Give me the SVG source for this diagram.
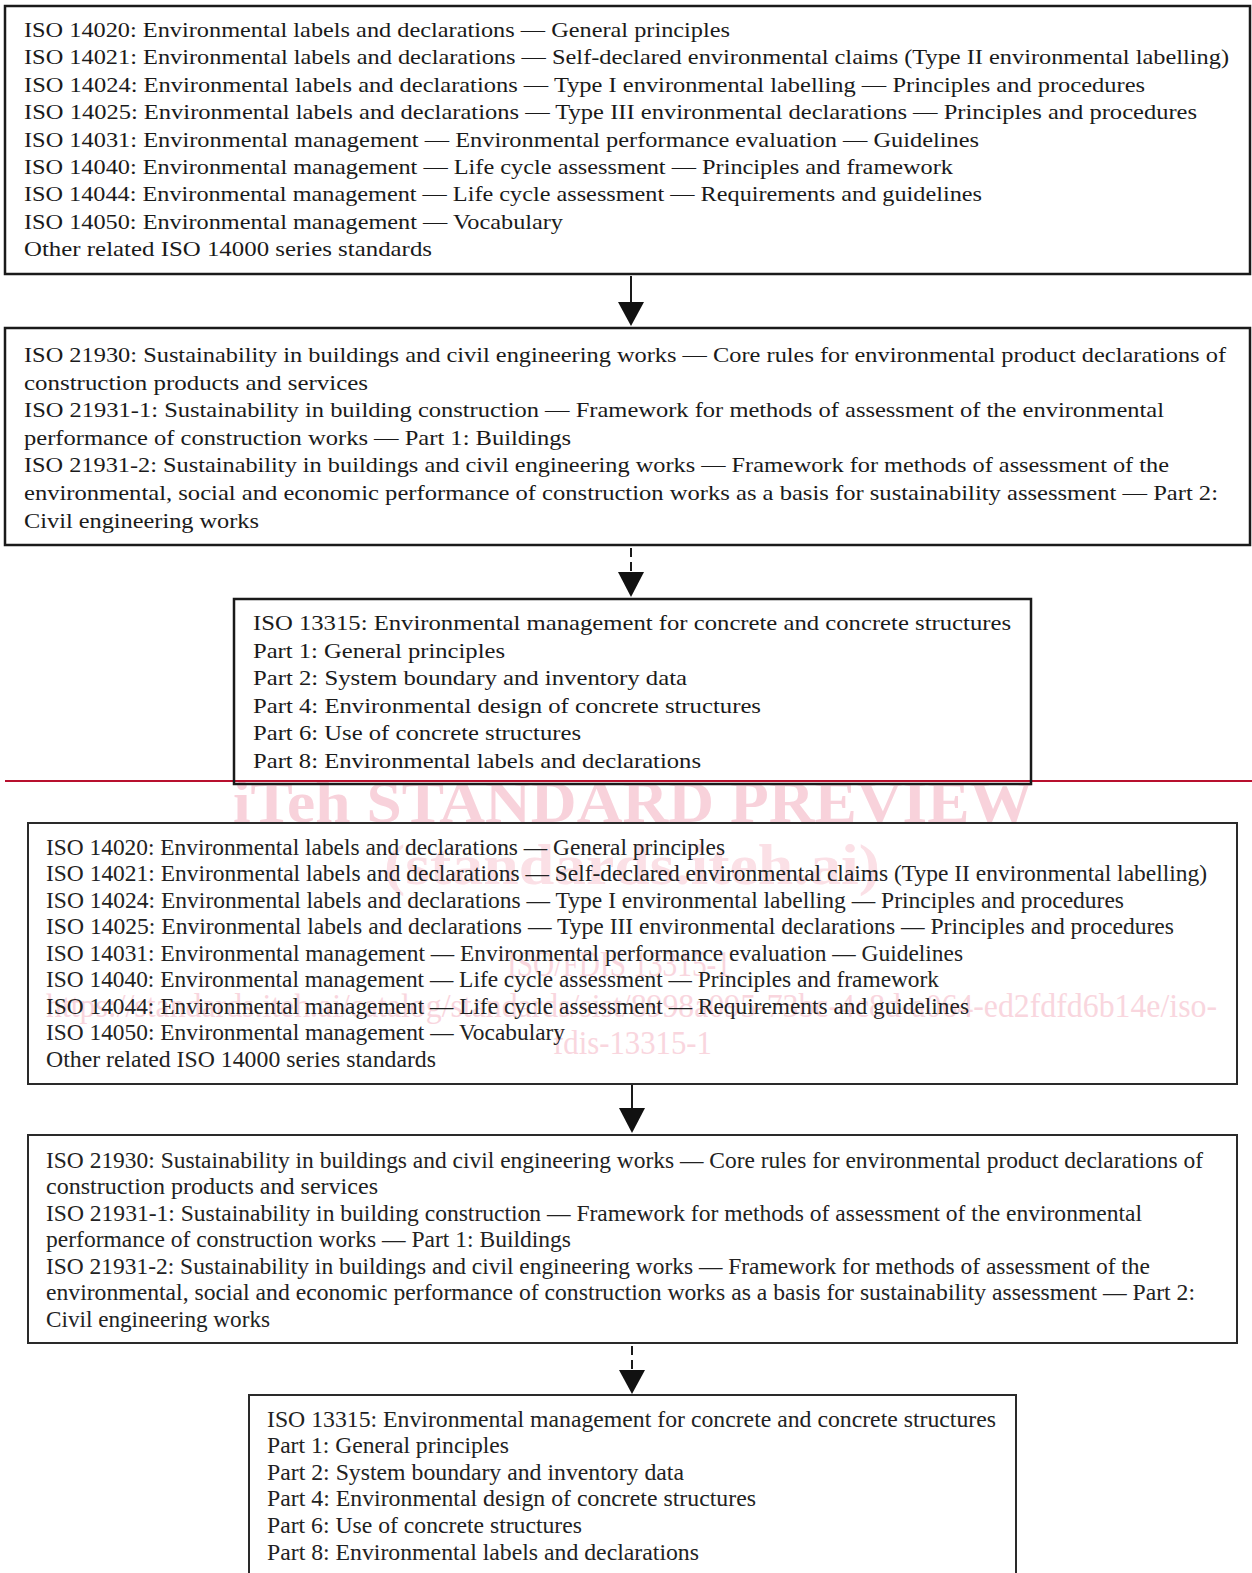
<svg xmlns="http://www.w3.org/2000/svg" width="1252" height="1573" viewBox="0 0 1252 1573">
<style>
.box{fill:none;stroke:#1a1a1a;stroke-width:2.5}
.box2{fill:none;stroke:#2a2a2a;stroke-width:2}
.t{font-family:"Liberation Serif","Times New Roman",serif;font-size:22px;fill:#1a1a1a}
.b{font-family:"Liberation Serif","Times New Roman",serif;font-size:22.5px;fill:#222}
.wm{font-family:"Liberation Serif","Times New Roman",serif;fill:#f9d6de}
.wmb{font-family:"Liberation Serif","Times New Roman",serif;fill:#f8d2db;font-weight:bold}
.wmc{font-family:"Liberation Serif","Times New Roman",serif;fill:#fbe0e6;font-weight:bold}
.ln{stroke:#1a1a1a;stroke-width:2;fill:none}
.dash{stroke:#1a1a1a;stroke-width:2;fill:none;stroke-dasharray:9 5}
.ah{fill:#111}
</style>
<rect width="1252" height="1573" fill="#ffffff"/>

<g id="watermark">
<text class="wmb" x="233" y="822" font-size="60" textLength="800" lengthAdjust="spacingAndGlyphs">iTeh STANDARD PREVIEW</text>
<text class="wmc" x="384" y="884" font-size="58" textLength="496" lengthAdjust="spacingAndGlyphs">(standards.iteh.ai)</text>
<text class="wm" x="507" y="976" font-size="36" textLength="224" lengthAdjust="spacingAndGlyphs">ISO/FDIS 13315-1</text>
<text class="wm" x="46" y="1017" font-size="34" textLength="1171" lengthAdjust="spacingAndGlyphs">https://standards.iteh.ai/catalog/standards/sist/8998a095-73bc-4c8d-a064-ed2fdfd6b14e/iso-</text>
<text class="wm" x="553" y="1054" font-size="34" textLength="159" lengthAdjust="spacingAndGlyphs">fdis-13315-1</text>
</g>

<line id="page-break" x1="5" y1="781" x2="1252" y2="781" stroke="#b8102e" stroke-width="2"/>

<g id="connectors">
<line class="ln" x1="631" y1="276" x2="631" y2="304"/>
<polygon class="ah" points="618,302 644,302 631,326"/>
<line class="dash" x1="631" y1="548" x2="631" y2="574"/>
<polygon class="ah" points="618,572 644,572 631,597"/>
<line class="ln" x1="632" y1="1085" x2="632" y2="1110"/>
<polygon class="ah" points="619,1108 645,1108 632,1133"/>
<line class="dash" x1="632" y1="1346" x2="632" y2="1372"/>
<polygon class="ah" points="619,1370 645,1370 632,1394"/>
</g>

<g id="node-1">
<rect class="box" x="5" y="6" width="1245" height="268"/>
<g transform="translate(0,2)">
<text class="t" x="24" y="35" textLength="706" lengthAdjust="spacingAndGlyphs">ISO 14020: Environmental labels and declarations — General principles</text>
<text class="t" x="24" y="62.4" textLength="1205" lengthAdjust="spacingAndGlyphs">ISO 14021: Environmental labels and declarations — Self-declared environmental claims (Type II environmental labelling)</text>
<text class="t" x="24" y="89.8" textLength="1121" lengthAdjust="spacingAndGlyphs">ISO 14024: Environmental labels and declarations — Type I environmental labelling — Principles and procedures</text>
<text class="t" x="24" y="117.2" textLength="1173" lengthAdjust="spacingAndGlyphs">ISO 14025: Environmental labels and declarations — Type III environmental declarations — Principles and procedures</text>
<text class="t" x="24" y="144.6" textLength="955" lengthAdjust="spacingAndGlyphs">ISO 14031: Environmental management — Environmental performance evaluation — Guidelines</text>
<text class="t" x="24" y="172" textLength="929" lengthAdjust="spacingAndGlyphs">ISO 14040: Environmental management — Life cycle assessment — Principles and framework</text>
<text class="t" x="24" y="199.4" textLength="958" lengthAdjust="spacingAndGlyphs">ISO 14044: Environmental management — Life cycle assessment — Requirements and guidelines</text>
<text class="t" x="24" y="226.8" textLength="539" lengthAdjust="spacingAndGlyphs">ISO 14050: Environmental management — Vocabulary</text>
<text class="t" x="24" y="254.2" textLength="408" lengthAdjust="spacingAndGlyphs">Other related ISO 14000 series standards</text>
</g>
</g>

<g id="node-2">
<rect class="box" x="5" y="328" width="1245" height="217"/>
<g transform="translate(0,2)">
<text class="t" x="24" y="360" textLength="1202" lengthAdjust="spacingAndGlyphs">ISO 21930: Sustainability in buildings and civil engineering works — Core rules for environmental product declarations of</text>
<text class="t" x="24" y="387.6" textLength="344" lengthAdjust="spacingAndGlyphs">construction products and services</text>
<text class="t" x="24" y="415.2" textLength="1140" lengthAdjust="spacingAndGlyphs">ISO 21931-1: Sustainability in building construction — Framework for methods of assessment of the environmental</text>
<text class="t" x="24" y="442.8" textLength="547" lengthAdjust="spacingAndGlyphs">performance of construction works — Part 1: Buildings</text>
<text class="t" x="24" y="470.4" textLength="1145" lengthAdjust="spacingAndGlyphs">ISO 21931-2: Sustainability in buildings and civil engineering works — Framework for methods of assessment of the</text>
<text class="t" x="24" y="498" textLength="1194" lengthAdjust="spacingAndGlyphs">environmental, social and economic performance of construction works as a basis for sustainability assessment — Part 2:</text>
<text class="t" x="24" y="525.6" textLength="235" lengthAdjust="spacingAndGlyphs">Civil engineering works</text>
</g>
</g>

<g id="node-3">
<rect class="box" x="234" y="599" width="797" height="185"/>
<g transform="translate(0,2)">
<text class="t" x="253" y="628" textLength="758" lengthAdjust="spacingAndGlyphs">ISO 13315: Environmental management for concrete and concrete structures</text>
<text class="t" x="253" y="655.6" textLength="252" lengthAdjust="spacingAndGlyphs">Part 1: General principles</text>
<text class="t" x="253" y="683.2" textLength="434" lengthAdjust="spacingAndGlyphs">Part 2: System boundary and inventory data</text>
<text class="t" x="253" y="710.8" textLength="508" lengthAdjust="spacingAndGlyphs">Part 4: Environmental design of concrete structures</text>
<text class="t" x="253" y="738.4" textLength="328" lengthAdjust="spacingAndGlyphs">Part 6: Use of concrete structures</text>
<text class="t" x="253" y="766" textLength="448" lengthAdjust="spacingAndGlyphs">Part 8: Environmental labels and declarations</text>
</g>
</g>

<g id="node-4">
<rect class="box2" x="28" y="823" width="1209" height="261"/>
<g transform="translate(0,2)">
<text class="b" x="46" y="852.5" textLength="679" lengthAdjust="spacingAndGlyphs">ISO 14020: Environmental labels and declarations — General principles</text>
<text class="b" x="46" y="879" textLength="1161" lengthAdjust="spacingAndGlyphs">ISO 14021: Environmental labels and declarations — Self-declared environmental claims (Type II environmental labelling)</text>
<text class="b" x="46" y="905.5" textLength="1078" lengthAdjust="spacingAndGlyphs">ISO 14024: Environmental labels and declarations — Type I environmental labelling — Principles and procedures</text>
<text class="b" x="46" y="932" textLength="1128" lengthAdjust="spacingAndGlyphs">ISO 14025: Environmental labels and declarations — Type III environmental declarations — Principles and procedures</text>
<text class="b" x="46" y="958.5" textLength="917" lengthAdjust="spacingAndGlyphs">ISO 14031: Environmental management — Environmental performance evaluation — Guidelines</text>
<text class="b" x="46" y="985" textLength="893" lengthAdjust="spacingAndGlyphs">ISO 14040: Environmental management — Life cycle assessment — Principles and framework</text>
<text class="b" x="46" y="1011.5" textLength="923" lengthAdjust="spacingAndGlyphs">ISO 14044: Environmental management — Life cycle assessment — Requirements and guidelines</text>
<text class="b" x="46" y="1038" textLength="519" lengthAdjust="spacingAndGlyphs">ISO 14050: Environmental management — Vocabulary</text>
<text class="b" x="46" y="1064.5" textLength="390" lengthAdjust="spacingAndGlyphs">Other related ISO 14000 series standards</text>
</g>
</g>

<g id="node-5">
<rect class="box2" x="28" y="1135" width="1209" height="208"/>
<g transform="translate(0,2)">
<text class="b" x="46" y="1165.5" textLength="1157" lengthAdjust="spacingAndGlyphs">ISO 21930: Sustainability in buildings and civil engineering works — Core rules for environmental product declarations of</text>
<text class="b" x="46" y="1192" textLength="332" lengthAdjust="spacingAndGlyphs">construction products and services</text>
<text class="b" x="46" y="1218.5" textLength="1096" lengthAdjust="spacingAndGlyphs">ISO 21931-1: Sustainability in building construction — Framework for methods of assessment of the environmental</text>
<text class="b" x="46" y="1245" textLength="525" lengthAdjust="spacingAndGlyphs">performance of construction works — Part 1: Buildings</text>
<text class="b" x="46" y="1271.5" textLength="1104" lengthAdjust="spacingAndGlyphs">ISO 21931-2: Sustainability in buildings and civil engineering works — Framework for methods of assessment of the</text>
<text class="b" x="46" y="1298" textLength="1149" lengthAdjust="spacingAndGlyphs">environmental, social and economic performance of construction works as a basis for sustainability assessment — Part 2:</text>
<text class="b" x="46" y="1324.5" textLength="224" lengthAdjust="spacingAndGlyphs">Civil engineering works</text>
</g>
</g>

<g id="node-6">
<rect class="box2" x="249" y="1395" width="767" height="220"/>
<g transform="translate(0,2)">
<text class="b" x="267" y="1424.5" textLength="729" lengthAdjust="spacingAndGlyphs">ISO 13315: Environmental management for concrete and concrete structures</text>
<text class="b" x="267" y="1451.1" textLength="242" lengthAdjust="spacingAndGlyphs">Part 1: General principles</text>
<text class="b" x="267" y="1477.7" textLength="417" lengthAdjust="spacingAndGlyphs">Part 2: System boundary and inventory data</text>
<text class="b" x="267" y="1504.3" textLength="489" lengthAdjust="spacingAndGlyphs">Part 4: Environmental design of concrete structures</text>
<text class="b" x="267" y="1530.9" textLength="315" lengthAdjust="spacingAndGlyphs">Part 6: Use of concrete structures</text>
<text class="b" x="267" y="1557.5" textLength="432" lengthAdjust="spacingAndGlyphs">Part 8: Environmental labels and declarations</text>
</g>
</g>
</svg>
